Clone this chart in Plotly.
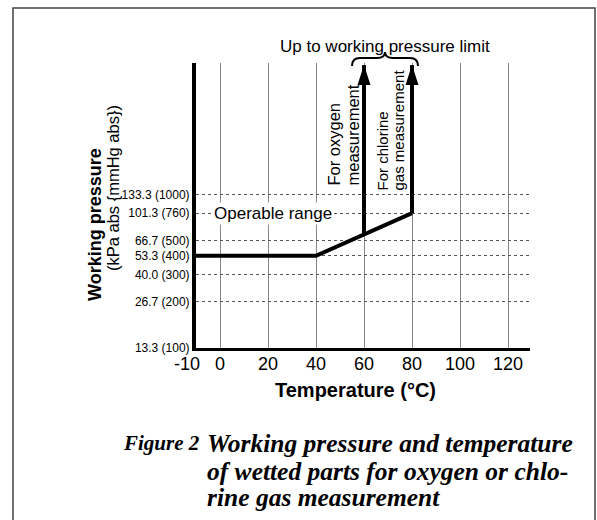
import numpy as np
import plotly.graph_objects as go

# ---------------- data ----------------
temp_ticks = [-10, 0, 20, 40, 60, 80, 100, 120]
temp_tick_text = ["-10\u2002\u2002", "0", "20", "40", "60", "80", "100", "120"]
pressure_kpa = [13.3, 26.7, 40.0, 53.3, 66.7, 101.3, 133.3]
pressure_mmhg = [100, 200, 300, 400, 500, 760, 1000]

boundary_temp = [-10, 40, 80]
boundary_pressure = [53.3, 53.3, 101.3]

oxygen_temp = [60, 60]
oxygen_pressure = [73.5, 940]
chlorine_temp = [80, 80]
chlorine_pressure = [101.3, 940]

# ---------------- layout geometry ----------------
W, H = 597, 520
L, R, T, B = 196, 67, 63, 172
PW, PH = W - L - R, H - T - B
X_RANGE = [-10, -10 + PW / 2.4]
Y_RANGE = [np.log10(13.3), np.log10(13.3) + PH / 153.0]


def pxx(p):
    return (p - L) / PW


def pxy(p):
    return (H - B - p) / PH


def x_of(p):
    return X_RANGE[0] + (p - L) / PW * (X_RANGE[1] - X_RANGE[0])


SANS = "Liberation Sans, Arial, Helvetica, sans-serif"
SERIF = "Liberation Serif, Times New Roman, serif"

fig = go.Figure()

line_style = dict(color="black", width=4)
fig.add_trace(go.Scatter(x=boundary_temp, y=boundary_pressure, mode="lines",
                         line=line_style, hoverinfo="skip", showlegend=False))
fig.add_trace(go.Scatter(x=oxygen_temp, y=oxygen_pressure, mode="lines",
                         line=line_style, hoverinfo="skip", showlegend=False))
fig.add_trace(go.Scatter(x=chlorine_temp, y=chlorine_pressure, mode="lines",
                         line=line_style, hoverinfo="skip", showlegend=False))
# arrow heads at the tops
fig.add_trace(go.Scatter(x=[oxygen_temp[-1], chlorine_temp[-1]],
                         y=[oxygen_pressure[-1], chlorine_pressure[-1]],
                         mode="markers",
                         marker=dict(symbol="arrow", size=21, color="black",
                                     line=dict(width=0)),
                         hoverinfo="skip", showlegend=False, cliponaxis=False))

# solid gridline at the top labelled pressure
fig.add_shape(type="line", xref="paper", yref="y", x0=0, x1=1,
              y0=np.log10(pressure_kpa[-1]), y1=np.log10(pressure_kpa[-1]),
              line=dict(color="#8a8a8a", width=1.2), layer="below")

# brace above the arrows
bx0, bx1 = x_of(352), x_of(418)
bxm = (bx0 + bx1) / 2
ye, yb, yt = pxy(66), pxy(58), pxy(52)
dx = (bx1 - bx0) * 0.12
path = (f"M {bx0},{ye} Q {bx0},{yb} {bx0+dx},{yb} L {bxm-dx},{yb} "
        f"Q {bxm},{yb} {bxm},{yt} Q {bxm},{yb} {bxm+dx},{yb} "
        f"L {bx1-dx},{yb} Q {bx1},{yb} {bx1},{ye}")
fig.add_shape(type="path", xref="x", yref="paper", path=path,
              line=dict(color="black", width=2))

# page frame
fig.add_shape(type="rect", xref="paper", yref="paper",
              x0=pxx(13), x1=pxx(595), y0=pxy(540), y1=pxy(8),
              line=dict(color="#444", width=1.5))

ann = []


def add(**kw):
    kw.setdefault("showarrow", False)
    kw.setdefault("xanchor", "center")
    kw.setdefault("yanchor", "middle")
    ann.append(kw)


add(x=bxm, y=pxy(46), xref="x", yref="paper",
    text="Up to working pressure limit",
    font=dict(family=SANS, size=17, color="black"))
add(x=x_of(273), y=np.log10(101.3), xref="x", yref="y",
    text="Operable range", bgcolor="white",
    font=dict(family=SANS, size=17, color="black"))
for txt, xp, yp, fs in [("For oxygen", 333, 188, 16.5),
                        ("measurement", 352, 188, 16.5),
                        ("For chlorine", 382, 193, 15),
                        ("gas measurement", 398, 193, 15)]:
    add(x=x_of(xp), y=pxy(yp), xref="x", yref="paper",
        text=txt, textangle=-90, yanchor="bottom",
        font=dict(family=SANS, size=fs, color="black"))
# axis titles
add(x=pxx(95), y=pxy(225), xref="paper", yref="paper",
    text="<b>Working pressure</b>", textangle=-90,
    font=dict(family=SANS, size=18, color="black"))
add(x=pxx(113), y=pxy(188), xref="paper", yref="paper",
    text="(kPa abs {mmHg abs})", textangle=-90,
    font=dict(family=SANS, size=16.5, color="black"))
add(x=pxx(355), y=pxy(390), xref="paper", yref="paper",
    text="<b>Temperature (°C)</b>",
    font=dict(family=SANS, size=20, color="black"))
# caption
cap_font = dict(family=SERIF, size=25.5, color="black")
add(x=pxx(121), y=pxy(443), xref="paper", yref="paper",
    xanchor="left", text="<b><i>Figure 2</i></b>",
    font=dict(family=SERIF, size=21, color="black"))
for txt, yp in [("Working pressure and temperature", 443),
                ("of wetted parts for oxygen or chlo-", 471),
                ("rine gas measurement", 498)]:
    add(x=pxx(205), y=pxy(yp), xref="paper", yref="paper",
        xanchor="left", text=f"<b><i>{txt}</i></b>", font=cap_font)

fig.update_layout(
    width=W, height=H,
    margin=dict(l=L, r=R, t=T, b=B, pad=0, autoexpand=False),
    paper_bgcolor="white", plot_bgcolor="white",
    annotations=ann,
    showlegend=False,
)
fig.update_xaxes(
    range=X_RANGE, tickmode="array", tickvals=temp_ticks, ticktext=temp_tick_text,
    tickangle=0, automargin=False, ticklabelstandoff=-3,
    showline=True, linecolor="black", linewidth=3, mirror=False,
    showgrid=True, gridcolor="#8a8a8a", gridwidth=1,
    zeroline=False, ticks="", ticklen=0,
    tickfont=dict(family=SANS, size=18, color="black"),
)
fig.update_yaxes(
    type="log", range=Y_RANGE, tickmode="array", tickvals=pressure_kpa,
    ticktext=[f"{k:.1f} ({m})" for k, m in zip(pressure_kpa, pressure_mmhg)],
    automargin=False,
    showline=True, linecolor="black", linewidth=4,
    showgrid=True, gridcolor="#555", gridwidth=1, griddash="dot",
    zeroline=False, ticks="", ticklen=0,
    tickfont=dict(family=SANS, size=12, color="black"),
)

fig.write_html("out.html", config={"displayModeBar": False},
               post_script="document.body.style.margin='0';")
